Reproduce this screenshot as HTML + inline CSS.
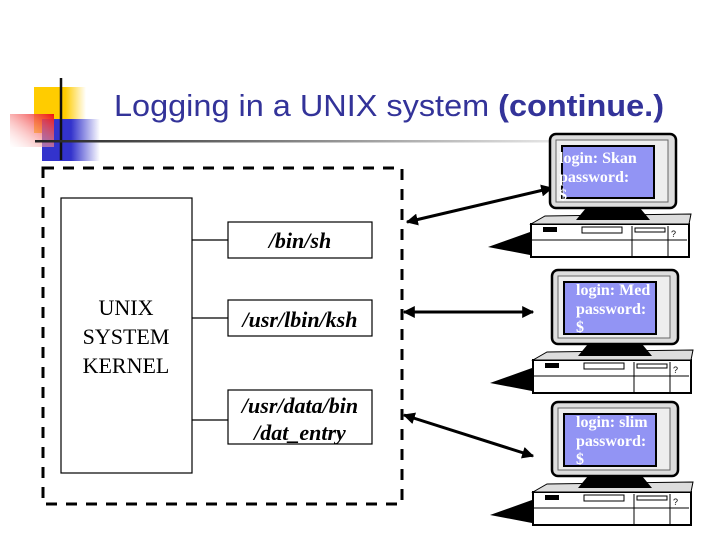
<!DOCTYPE html>
<html><head><style>
body{margin:0;width:720px;height:540px;background:#fff;overflow:hidden}
svg{display:block}
</style></head><body>
<svg width="720" height="540" viewBox="0 0 720 540" xmlns="http://www.w3.org/2000/svg">
<defs>
<linearGradient id="gy" x1="0" x2="1"><stop offset="0" stop-color="#ffcc00"/><stop offset="0.6" stop-color="#ffcc00"/><stop offset="1" stop-color="#fff"/></linearGradient>
<linearGradient id="gb" x1="0" x2="1"><stop offset="0" stop-color="#3333cc"/><stop offset="0.5" stop-color="#3333cc"/><stop offset="1" stop-color="#fff"/></linearGradient>
<linearGradient id="gr" x1="1" x2="0" y1="0" y2="1"><stop offset="0" stop-color="#ee1111"/><stop offset="1" stop-color="#fff" stop-opacity="0.3"/></linearGradient>
<linearGradient id="gl" x1="0" x2="1"><stop offset="0" stop-color="#222"/><stop offset="1" stop-color="#eee"/></linearGradient>
<marker id="ah" viewBox="0 0 10 10" refX="9" refY="5" markerWidth="4" markerHeight="4" orient="auto-start-reverse"><path d="M0,0L10,5L0,10z" fill="#000"/></marker>
<g id="pc">
  <polygon points="-62,113 -20,98 -20,121" fill="#000"/>
  <rect x="-19" y="90" width="158" height="33" fill="#fff" stroke="#000" stroke-width="2"/>
  <polygon points="-19,90 -5,82 141,80 139,90" fill="#ddd" stroke="#000"/>
  <line x1="-19" y1="106" x2="137" y2="106" stroke="#000"/>
  <line x1="82" y1="92" x2="82" y2="123" stroke="#000"/>
  <line x1="118" y1="92" x2="118" y2="123" stroke="#000"/>
  <rect x="-7" y="93" width="14" height="5" fill="#000"/>
  <rect x="32" y="93" width="40" height="6" fill="#fff" stroke="#000"/>
  <rect x="85" y="94" width="30" height="4" fill="#fff" stroke="#000"/>
  <text x="121" y="103" font-size="9" font-family="Liberation Sans">?</text>
  <polygon points="36,74 90,74 100,86 26,86" fill="#000"/>
  <rect x="0" y="0" width="126" height="74" rx="6" fill="#ddd" stroke="#000" stroke-width="2.5"/>
  <rect x="6" y="6" width="112" height="62" fill="#eee" stroke="#666"/>
  <rect x="11" y="11" width="94" height="54" fill="#000"/>
  <rect x="13" y="13" width="90" height="50" fill="#9294f4"/>
</g>
</defs>
<rect x="34" y="87" width="52" height="46" fill="url(#gy)"/>
<rect x="42" y="119" width="58" height="42" fill="url(#gb)"/>
<rect x="10" y="114" width="44" height="33" fill="url(#gr)"/>
<line x1="61" y1="78" x2="61" y2="160" stroke="#111" stroke-width="2.5"/>
<rect x="35" y="140" width="540" height="2.5" fill="url(#gl)"/>
<text x="114" y="116" font-family="Liberation Sans" font-size="31" fill="#333399" textLength="550" lengthAdjust="spacingAndGlyphs">Logging in a UNIX system <tspan font-weight="bold">(continue.)</tspan></text>

<rect x="43" y="168" width="359" height="336" fill="none" stroke="#000" stroke-width="3" stroke-dasharray="11,9"/>
<rect x="61" y="198" width="131" height="275" fill="#fff" stroke="#000" stroke-width="1.2"/>
<text font-family="Liberation Serif" font-size="22" text-anchor="middle"><tspan x="126" y="315">UNIX</tspan><tspan x="126" y="344">SYSTEM</tspan><tspan x="126" y="373">KERNEL</tspan></text>
<g stroke="#000" stroke-width="1.2" fill="#fff">
<line x1="192" y1="240" x2="228" y2="240"/><line x1="192" y1="318" x2="228" y2="318"/><line x1="192" y1="420" x2="228" y2="420"/>
<rect x="228" y="222" width="144" height="36"/>
<rect x="228" y="300" width="144" height="36"/>
<rect x="228" y="390" width="144" height="54"/>
</g>
<g font-family="Liberation Serif" font-size="22" font-style="italic" font-weight="bold" text-anchor="middle">
<text x="300" y="248">/bin/sh</text>
<text x="300" y="327">/usr/lbin/ksh</text>
<text x="300" y="413">/usr/data/bin</text>
<text x="300" y="440">/dat_entry</text>
</g>
<g stroke="#000" stroke-width="3" marker-start="url(#ah)" marker-end="url(#ah)">
<line x1="407" y1="222" x2="552" y2="188"/>
<line x1="404" y1="312" x2="533" y2="312"/>
<line x1="404" y1="415" x2="533" y2="456"/>
</g>
<use href="#pc" x="550" y="134"/>
<use href="#pc" x="552" y="270"/>
<use href="#pc" x="552" y="402"/>
<g font-family="Liberation Serif" font-size="16" font-weight="bold" fill="#fff">
<text x="559" y="163">login: Skan</text><text x="559" y="182">password:</text><text x="559" y="200">$</text>
<text x="576" y="295">login: Med</text><text x="576" y="314">password:</text><text x="576" y="332">$</text>
<text x="576" y="427">login: slim</text><text x="576" y="446">password:</text><text x="576" y="464">$</text>
</g>
</svg>
</body></html>
